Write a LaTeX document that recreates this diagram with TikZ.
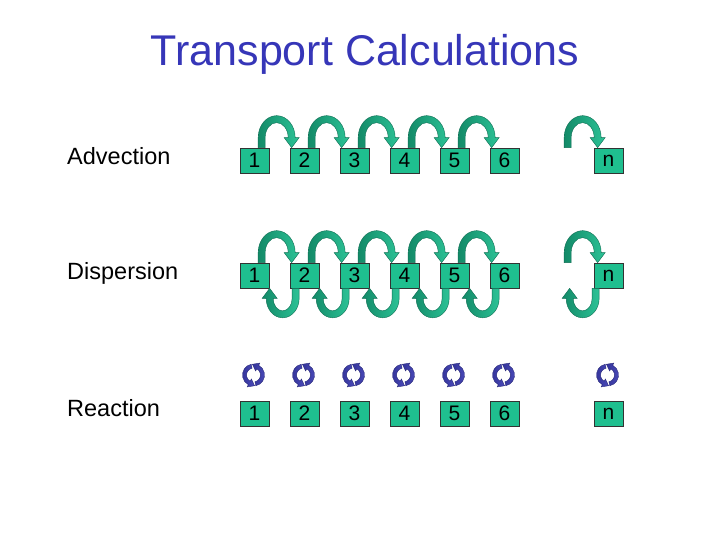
\documentclass[tikz,border=0pt]{standalone}
\usepackage{fontspec}
\setmainfont{Liberation Sans}
\usetikzlibrary{arrows.meta}
\definecolor{boxfill}{HTML}{1FBF8F}
\definecolor{archdark}{HTML}{138A68}
\definecolor{archlight}{HTML}{2CC296}
\definecolor{titleblue}{HTML}{3636B8}
\definecolor{cycblue}{HTML}{34349A}
\definecolor{cyclight}{HTML}{4A4AB8}
\tikzset{
  cell/.style={draw=black!80, line width=0.7pt, fill=boxfill, minimum width=29pt,
    minimum height=25pt, inner sep=0pt, font=\fontsize{21}{21}\selectfont},
  lbl/.style={anchor=base west, inner sep=0pt, font=\fontsize{23.5}{26}\selectfont},
  archfill/.style={left color=archdark, right color=archlight, draw=archdark!80!black, line width=0.4pt},
  cycfill/.style={left color=cycblue, right color=cyclight, draw=cycblue!80!black, line width=0.4pt},
  pics/arch/.style 2 args={code={
    \path[archfill] (-3.5,0) -- (-3.5,10)
      arc[start angle=180,end angle=0,x radius=#1/2+3.5,y radius=#2]
      -- ++(4,0) -- (#1,0) -- (#1-7.5,10) -- ++(4,0)
      arc[start angle=0,end angle=180,x radius=#1/2-3.5,y radius=#2-7]
      -- (3.5,0) -- cycle;
  }},
  pics/cycarrow/.style={code={
    \path[cycfill] (#1:11) arc[start angle=#1,end angle=#1+140,radius=11]
      -- (#1+140:13.5) -- (#1+173.7:10.8) -- (#1+140:4.5) -- (#1+140:7)
      arc[start angle=#1+140,end angle=#1,radius=7] -- cycle;
  }}
}
\begin{document}
\begin{tikzpicture}[x=1pt,y=1pt]
\useasboundingbox (0,0) rectangle (720,540);
\fill[white] (0,0) rectangle (720,540);
\node[anchor=base, inner sep=0pt, text=titleblue, font=\fontsize{43}{48}\selectfont] (title) at (365,474) {Transport Calculations};
\node[lbl] (ladv) at (67,375) {Advection};
\node[lbl] (ldis) at (67,260) {Dispersion};
\node[lbl] (lrea) at (67,123) {Reaction};
\foreach \i/\x in {1/240,2/290,3/340,4/390,5/440,6/490,n/594}{
  \node[cell] (a\i) at (\x+14.5,379.5) {\i};
  \node[cell] (d\i) at (\x+14.5,264.5) {\i};
  \node[cell] (r\i) at (\x+14.5,126.5) {\i};
  \coordinate (c\i) at (\x+13.5,165);
  \pic at (c\i) {cycarrow=102};
  \pic at (c\i) {cycarrow=282};
}
\foreach \i/\j in {1/2,2/3,3/4,4/5,5/6}{
  \pic at ([xshift=22pt]a\i.north west) {arch={30}{22}};
  \pic at ([xshift=22pt]d\i.north west) {arch={30}{22}};
  \pic[rotate=180] at ([xshift=6pt]d\j.south west) {arch={26}{19.5}};
}
\pic at ([xshift=-26pt]an.north west) {arch={30}{22}};
\pic at ([xshift=-26pt]dn.north west) {arch={30}{22}};
\pic[rotate=180] at ([xshift=2pt]dn.south west) {arch={26}{19.5}};
\end{tikzpicture}
\end{document}
